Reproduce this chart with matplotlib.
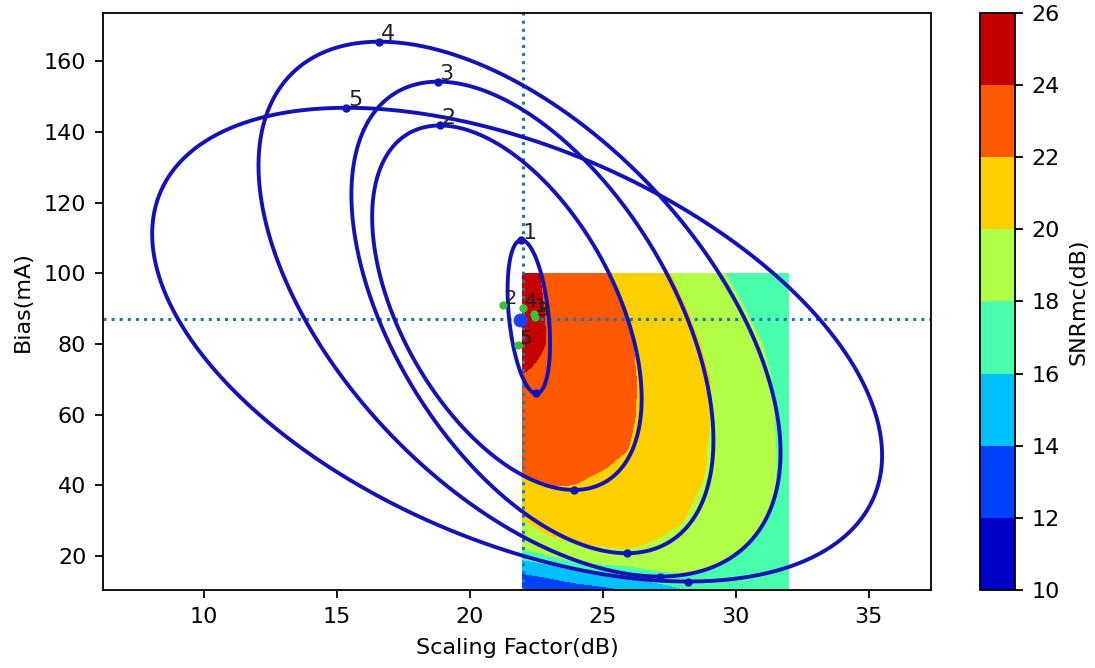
import numpy as np
import matplotlib
matplotlib.use("Agg")
import matplotlib.pyplot as plt

# ---------------- data ----------------
# SNR field (dB) sampled on a grid: columns = scaling factor, rows = bias
grid_x = [22, 23, 24, 25, 26, 27, 28, 29, 30, 31, 32]
grid_y = [10, 12, 14, 16, 18, 20, 22, 25, 30, 35, 40, 45, 50, 60, 70, 80, 90, 100]
snr = [
    [11.5, 12.3, 13.0, 13.4, 13.6, 14.3, 15.6, 16.4, 16.6, 16.7, 16.5],
    [12.4, 13.2, 13.8, 14.2, 14.9, 15.7, 16.6, 17.0, 17.0, 16.9, 16.6],
    [13.5, 14.1, 14.8, 15.2, 15.8, 17.0, 17.7, 17.6, 17.3, 17.0, 16.7],
    [14.4, 15.0, 15.8, 16.5, 17.3, 18.2, 18.4, 18.05, 17.5, 17.1, 16.8],
    [15.3, 16.0, 18.1, 18.4, 18.6, 18.9, 18.8, 18.25, 17.7, 17.2, 16.85],
    [16.5, 18.3, 18.9, 19.3, 19.5, 19.3, 19.1, 18.4, 17.85, 17.3, 16.9],
    [18.2, 18.8, 19.6, 19.9, 20.05, 19.6, 19.3, 18.5, 18.05, 17.5, 17.0],
    [19.2, 19.95, 20.3, 20.45, 20.5, 20.05, 19.6, 18.9, 18.4, 17.8, 17.2],
    [19.95, 20.6, 20.8, 20.85, 20.75, 20.5, 20.05, 19.45, 18.76, 18.07, 17.4],
    [20.8, 21.3, 21.4, 21.3, 21.0, 20.6, 20.2, 19.66, 18.97, 18.28, 17.5],
    [21.6, 22.05, 22.02, 21.7, 21.25, 20.8, 20.36, 19.85, 19.11, 18.37, 17.6],
    [22.5, 22.36, 22.21, 22.07, 21.71, 21.12, 20.53, 19.94, 19.19, 18.44, 17.6],
    [23.0, 22.75, 22.5, 22.25, 22.02, 21.31, 20.62, 19.93, 19.19, 18.44, 17.6],
    [23.6, 23.24, 22.87, 22.51, 22.15, 21.54, 20.77, 20.05, 19.2, 18.4, 17.5],
    [23.9, 23.47, 23.04, 22.6, 22.17, 21.54, 20.77, 20.05, 19.17, 18.33, 17.4],
    [24.7, 23.88, 23.29, 22.71, 22.12, 21.36, 20.56, 19.74, 18.87, 18.02, 17.0],
    [24.6, 23.84, 23.18, 22.52, 21.83, 21.0, 20.17, 19.24, 18.29, 17.43, 16.6],
    [24.5, 23.7, 22.96, 22.22, 21.39, 20.52, 19.58, 18.53, 17.66, 16.98, 16.3],
]
levels = [10, 12, 14, 16, 18, 20, 22, 24, 26]

# ellipses: top point, bottom point and half-width
ell_labels = ["1", "2", "3", "4", "5"]
top_x = [21.94, 18.87, 18.81, 16.60, 15.36]
top_y = [109.4, 141.8, 154.2, 165.5, 146.8]
bot_x = [22.50, 23.92, 25.90, 27.14, 28.20]
bot_y = [66.0, 38.7, 20.8, 14.2, 12.8]
half_w = [0.80, 5.07, 6.81, 9.82, 13.73]

# operating point and starting points
ref_x, ref_y = 22.0, 87.0
opt_x, opt_y = 21.88, 86.75
start_labels = ["1", "2", "3", "4", "5"]
start_x = [22.40, 21.25, 22.45, 22.00, 21.80]
start_y = [88.6, 91.0, 87.6, 90.2, 79.7]

xticks = [10, 15, 20, 25, 30, 35]
yticks = [20, 40, 60, 80, 100, 120, 140, 160]
cticks = [10, 12, 14, 16, 18, 20, 22, 24, 26]

# ---------------- figure ----------------
FS = 16
fig = plt.figure(figsize=(10.95, 6.68), dpi=100)
W, H = 1095, 668
ax = fig.add_axes([103 / W, 78 / H, (931 - 103) / W, (590 - 12.7) / H])
cax = fig.add_axes([980 / W, 78 / H, 35 / W, (590 - 12.7) / H])

# smooth the sampled field onto a fine grid
gx = np.array(grid_x, float)
gy = np.array(grid_y, float)
Z = np.array(snr, float)
fx = np.linspace(gx[0], gx[-1], 301)
fy = np.linspace(gy[0], gy[-1], 361)
tmp = np.array([np.interp(fx, gx, row) for row in Z])          # rows x fine-x
Zf = np.array([np.interp(fy, gy, col) for col in tmp.T]).T       # fine-y x fine-x

def gsmooth(A, sig, axis):
    n = int(3 * sig) + 1
    k = np.exp(-0.5 * (np.arange(-n, n + 1) / sig) ** 2)
    k /= k.sum()
    pad = [(0, 0), (0, 0)]
    pad[axis] = (n, n)
    Ap = np.pad(A, pad, mode="edge")
    return np.apply_along_axis(lambda v: np.convolve(v, k, mode="valid"), axis, Ap)

dxf = fx[1] - fx[0]
dyf = fy[1] - fy[0]
Zf = gsmooth(Zf, 0.22 / dxf, 1)
Zf = gsmooth(Zf, 1.0 / dyf, 0)

cs = ax.contourf(fx, fy, Zf, levels=levels, cmap="jet", zorder=1)

ax.axvline(ref_x, color="#1f77b4", linestyle=":", lw=2.2, zorder=2)
ax.axhline(ref_y, color="#1f77b4", linestyle=":", lw=2.2, zorder=2)

ecol = "#1212b8"
t = np.linspace(0, 2 * np.pi, 600)
for lab, tx, ty, bx, by, hw in zip(ell_labels, top_x, top_y, bot_x, bot_y, half_w):
    cx, cy = (tx + bx) / 2, (ty + by) / 2
    dx, ry = tx - cx, ty - cy
    h = np.sqrt(max(hw ** 2 - dx ** 2, 0.0))
    ax.plot(cx + dx * np.cos(t) + h * np.sin(t), cy + ry * np.cos(t),
            color=ecol, lw=2.8, zorder=3)
    ax.plot([tx, bx], [ty, by], "o", color=ecol, ms=5, zorder=4)
    ax.annotate(lab, (tx, ty), xytext=(1, 1), textcoords="offset points",
                ha="left", va="baseline", fontsize=FS, color="#222222", zorder=5)

ax.plot(start_x, start_y, "o", color="#3cc03c", ms=5, zorder=4)
for lab, sx, sy in zip(start_labels, start_x, start_y):
    ax.annotate(lab, (sx, sy), xytext=(1, 1), textcoords="offset points",
                ha="left", va="baseline", fontsize=FS - 2, color="#222222", zorder=5)
ax.plot([opt_x], [opt_y], "o", color="#1f3fff", ms=9, zorder=5)

ax.set_xlim(6.2, 37.35)
ax.set_ylim(10.4, 173.7)
ax.set_xticks(xticks)
ax.set_yticks(yticks)
ax.tick_params(labelsize=FS, length=6, width=1.3, pad=6)
for s in ax.spines.values():
    s.set_linewidth(1.3)
ax.set_xlabel("Scaling Factor(dB)", fontsize=FS, labelpad=8)
ax.set_ylabel("Bias(mA)", fontsize=FS, labelpad=8)

cb = fig.colorbar(cs, cax=cax, ticks=cticks)
cb.ax.tick_params(labelsize=FS, length=6, width=1.3, pad=6)
cb.outline.set_linewidth(1.3)
cb.set_label("SNRmc(dB)", fontsize=FS, labelpad=6)

fig.savefig("out.png", dpi=100)
